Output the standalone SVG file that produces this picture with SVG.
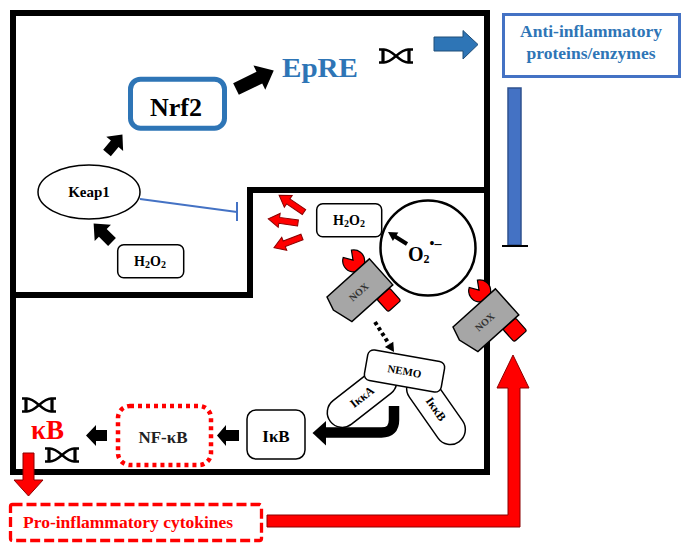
<svg xmlns="http://www.w3.org/2000/svg" width="691" height="550" viewBox="0 0 691 550">
<style>
.t{font-family:"Liberation Serif","Times New Roman",serif;font-weight:bold;}
.frame{fill:none;stroke:#000;stroke-width:6;stroke-linejoin:miter;}
.box{fill:#fff;stroke:#000;stroke-width:1.5;}
.blk{fill:#000;}
.redarr{fill:#FF0000;stroke:#8B0000;stroke-width:1;}
.dna{fill:none;stroke:#000;stroke-width:2.4;}
.dnab{fill:none;stroke:#000;stroke-width:3.2;}
.nox{fill:#A6A6A6;stroke:#000;stroke-width:1.5;}
.noxred{fill:#FF0000;stroke:#000;stroke-width:1.2;}
.blueln{stroke:#4472C4;stroke-width:2;fill:none;}
</style>
<defs>
<symbol id="dna" viewBox="0 0 36 16">
<path class="dnab" d="M5,1.5 V14.5 M31,1.5 V14.5"/>
<path class="dna" d="M1,1.5 H6 C15,1.5 21,14.5 30,14.5 H35 M1,14.5 H6 C15,14.5 21,1.5 30,1.5 H35"/>
</symbol>
<g id="noxshape">
<path class="noxred" d="M38.5,-18.5 A11,11 0 1 0 49.5,-18.5 L44,-10 Z"/>
<rect class="noxred" x="35.5" y="35" width="17" height="17" rx="2"/>
<polygon class="nox" points="0,0 57,0 57,35 2,35 -4,14"/>
<text class="t" x="27" y="21" font-size="10" text-anchor="middle" fill="#333">NOX</text>
</g>
</defs>
<rect width="691" height="550" fill="#fff"/>
<g id="frame">
<path class="frame" d="M13,13 H487 V472 H13 Z M13,295 H250 V190 H487"/>
</g>
<g id="nrf2">
<rect x="130.5" y="79.2" width="94" height="49" rx="10" fill="#fff" stroke="#2E75B6" stroke-width="5"/>
<text class="t" x="176" y="116" font-size="26" text-anchor="middle">Nrf2</text>
</g>
<g id="epre">
<text class="t" x="282" y="77" font-size="27" fill="#2E75B6" textLength="76" lengthAdjust="spacingAndGlyphs">EpRE</text>
<use href="#dna" x="378" y="48" width="36" height="16"/>
</g>
<g id="anti">
<rect x="503.5" y="14.5" width="176" height="62" fill="#fff" stroke="#4472C4" stroke-width="3"/>
<text class="t" x="591" y="37" font-size="17.5" fill="#2E75B6" text-anchor="middle">Anti-inflammatory</text>
<text class="t" x="591" y="59" font-size="17.5" fill="#2E75B6" text-anchor="middle">proteins/enzymes</text>
</g>
<g id="keap1">
<ellipse cx="89" cy="192" rx="51" ry="27" class="box"/>
<text class="t" x="89" y="197" font-size="15" text-anchor="middle">Keap1</text>
</g>
<g id="h2o2a">
<rect class="box" x="117.7" y="244.7" width="66" height="33" rx="6"/>
<text class="t" x="150" y="266" font-size="14" text-anchor="middle">H<tspan font-size="10" dy="2">2</tspan><tspan dy="-2">O</tspan><tspan font-size="10" dy="2">2</tspan></text>
</g>
<g id="h2o2b">
<rect class="box" x="316.7" y="203.7" width="65" height="33" rx="6"/>
<text class="t" x="349" y="225" font-size="14" text-anchor="middle">H<tspan font-size="10" dy="2">2</tspan><tspan dy="-2">O</tspan><tspan font-size="10" dy="2">2</tspan></text>
</g>
<g id="o2">
<circle cx="428" cy="248" r="47.5" fill="none" stroke="#000" stroke-width="2.5"/>
<text class="t" x="408" y="261" font-size="20">O<tspan font-size="12" dy="2">2</tspan><tspan font-size="14" dy="-15">•–</tspan></text>
</g>
<g id="nox1" transform="translate(327,297) rotate(-42)"><use href="#noxshape"/></g>
<g id="nox2" transform="translate(453,327) rotate(-42)"><use href="#noxshape"/></g>
<g id="ikka" transform="translate(362,397) rotate(-38)">
<rect class="box" x="-40" y="-15" width="80" height="30" rx="15"/>
<text class="t" x="0" y="4" font-size="12" text-anchor="middle">IκκA</text>
</g>
<g id="ikkb" transform="translate(436,409) rotate(55)">
<rect class="box" x="-40" y="-15" width="80" height="30" rx="15"/>
<text class="t" x="0" y="4" font-size="12" text-anchor="middle">IκκB</text>
</g>
<g id="nemo" transform="translate(404.5,371) rotate(10)">
<rect class="box" x="-39" y="-15.5" width="78" height="31" rx="6"/>
<text class="t" x="0" y="4" font-size="11" text-anchor="middle">NEMO</text>
</g>
<g id="ikb">
<rect class="box" x="247" y="410" width="58" height="49" rx="9"/>
<text class="t" x="276" y="442" font-size="17" text-anchor="middle">IκB</text>
</g>
<g id="nfkb">
<rect x="118" y="406" width="93" height="59" rx="12" fill="#fff" stroke="#FF0000" stroke-width="4.5" stroke-dasharray="4 4"/>
<text class="t" x="163" y="443" font-size="17" text-anchor="middle" fill="#222">NF-κB</text>
</g>
<g id="kb">
<use href="#dna" x="21" y="397" width="36" height="16"/>
<text class="t" x="31" y="439" font-size="27" fill="#FF0000">κB</text>
<use href="#dna" x="44" y="447" width="36" height="16"/>
</g>
<g id="pro">
<rect x="10.5" y="504.5" width="251" height="36" rx="2" fill="#fff" stroke="#FF0000" stroke-width="3.3" stroke-dasharray="10 4"/>
<text class="t" x="23" y="528" font-size="17.5" fill="#FF0000">Pro-inflammatory cytokines</text>
</g>
<g id="connectors">
<polygon class="blk" transform="translate(107,153) rotate(-50)" points="0,-5 12,-5 12,-11 24,0 12,11 12,5 0,5"/>
<polygon class="blk" transform="translate(112,242) rotate(-135)" points="0,-5.5 13,-5.5 13,-11.5 26,0 13,11.5 13,5.5 0,5.5"/>
<polygon class="blk" transform="translate(236,89) rotate(-26)" points="0,-6.5 26,-6.5 26,-13.5 42,0 26,13.5 26,6.5 0,6.5"/>
<polygon fill="#2E75B6" stroke="#1F4E79" stroke-width="1" points="434,37 463,37 463,30.5 478,44.5 463,59 463,51 434,51"/>
<rect x="508" y="88" width="13" height="157" fill="#4472C4" stroke="#2F528F" stroke-width="1.5"/>
<line x1="502" y1="246" x2="528" y2="246" stroke="#000" stroke-width="2"/>
<line class="blueln" x1="140" y1="199" x2="237" y2="212"/>
<line class="blueln" x1="237" y1="202" x2="237" y2="221"/>
<polygon class="redarr" transform="translate(304,212) rotate(-146)" points="0,-3 19,-3 19,-7 30,0 19,7 19,3 0,3"/>
<polygon class="redarr" transform="translate(298,223) rotate(-172)" points="0,-3 19,-3 19,-7 30,0 19,7 19,3 0,3"/>
<polygon class="redarr" transform="translate(302,237) rotate(159)" points="0,-3 19,-3 19,-7 30,0 19,7 19,3 0,3"/>
<line x1="407" y1="244" x2="395" y2="236.5" stroke="#000" stroke-width="4"/>
<polygon class="blk" points="388,232 398.3,232.6 392.9,241"/>
<line x1="375" y1="322" x2="389" y2="344" stroke="#000" stroke-width="4" stroke-dasharray="3.5 3"/>
<polygon class="blk" points="394,352 393.3,341.7 384.9,347.1"/>
<path d="M394,406 V420 Q394,432.5 381.5,432.5 H325" fill="none" stroke="#000" stroke-width="10.5"/>
<polygon class="blk" points="326,421 312.5,433 326,445.5"/>
<polygon class="blk" transform="translate(239,435.5) rotate(180)" points="0,-5.5 13,-5.5 13,-10.5 22,0 13,10.5 13,5.5 0,5.5"/>
<polygon class="blk" transform="translate(107,435.5) rotate(180)" points="0,-5.5 11,-5.5 11,-10.5 21,0 11,10.5 11,5.5 0,5.5"/>
<polygon class="redarr" points="23,453 34,453 34,480 43,480 28.5,496 14,480 23,480"/>
<polygon class="redarr" points="267,515 508,515 508,388 497,388 513,355 529,388 520,388 520,527 267,527"/>
</g>
</svg>
